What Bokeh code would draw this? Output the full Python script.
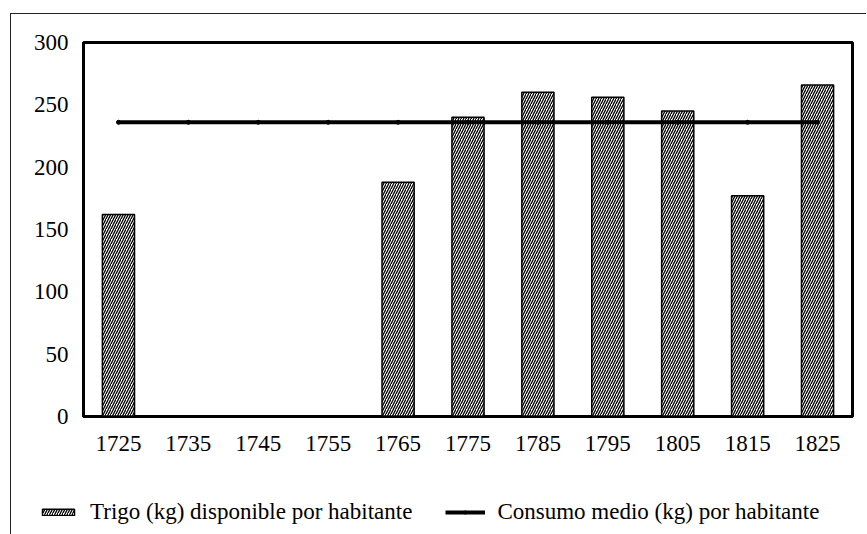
from bokeh.plotting import figure
from bokeh.layouts import column, row
from bokeh.models import FactorRange, Range1d, Legend, LegendItem, ColumnDataSource
from bokeh.embed import file_html
from bokeh.resources import INLINE

years = ["1725", "1735", "1745", "1755", "1765", "1775", "1785", "1795", "1805", "1815", "1825"]
trigo = [162, float("nan"), float("nan"), float("nan"), 188, 240, 260, 256, 245, 177, 266]
consumo = [236, 236, 236, 236, 236, 236, 236, 236, 236, 236, 236]
y_ticks = [0, 50, 100, 150, 200, 250, 300]
labels = ["Trigo (kg) disponible por habitante", "Consumo medio (kg) por habitante"]

FONT = "Liberation Serif"
FS = "23px"

BAR_STYLE = dict(fill_color="white", line_color="black", line_width=1.5, hatch_pattern="/",
                 hatch_color="black", hatch_scale=5, hatch_weight=1.3)

src = ColumnDataSource(dict(year=years, trigo=trigo, consumo=consumo))


def draw(fig):
    b = fig.vbar(x="year", top="trigo", width=0.46, source=src, **BAR_STYLE)
    l = fig.line(x="year", y="consumo", source=src, line_width=4, line_color="black")
    s = fig.scatter(x="year", y="consumo", source=src, size=4, marker="circle", color="black")
    return b, l, s


p = figure(x_range=FactorRange(*years, range_padding=0), y_range=Range1d(0, 300),
           width=855, height=456, output_backend="svg", toolbar_location=None,
           min_border_left=72, min_border_top=28, min_border_right=14, min_border_bottom=54)
p.title = None
p.xgrid.visible = False
p.ygrid.visible = False
p.outline_line_color = "black"
p.outline_line_width = 3

p.yaxis.ticker = y_ticks
p.yaxis.axis_line_width = 3
p.yaxis.major_tick_line_color = None
p.yaxis.minor_tick_line_color = None
p.yaxis.major_label_standoff = 9
p.yaxis.major_label_text_font = FONT
p.yaxis.major_label_text_font_size = FS
p.yaxis.major_label_text_color = "black"

p.xaxis.axis_line_width = 2
p.xaxis.major_tick_line_color = None
p.xaxis.major_label_standoff = 13
p.xaxis.major_label_text_font = FONT
p.xaxis.major_label_text_font_size = FS
p.xaxis.major_label_text_color = "black"

draw(p)

# legend strip: same series on a range where none of the categories exist,
# so only the legend entries are shown
lg = figure(width=855, height=64, output_backend="svg", toolbar_location=None,
            x_range=FactorRange("legend"), y_range=Range1d(1000, 1001),
            x_axis_type=None, y_axis_type=None, min_border=0)
lg.title = None
lg.outline_line_color = None
lg.grid.visible = False
lb, ll, ls = draw(lg)

legend = Legend(items=[LegendItem(label=labels[0], renderers=[lb]),
                       LegendItem(label=labels[1], renderers=[ll, ls])],
                orientation="horizontal", location=(27, 9), glyph_width=40, glyph_height=8,
                label_standoff=12, spacing=33, padding=0, margin=0, border_line_color=None,
                background_fill_alpha=0, label_text_font=FONT, label_text_font_size=FS,
                label_text_color="black")
lg.add_layout(legend)

layout = column(p, row(lg), spacing=0)
layout.styles = {"border-left": "1px solid #222", "border-top": "1px solid #222",
                 "margin-left": "10px", "margin-top": "13px"}

open("out.html", "w").write(file_html(layout, INLINE))
